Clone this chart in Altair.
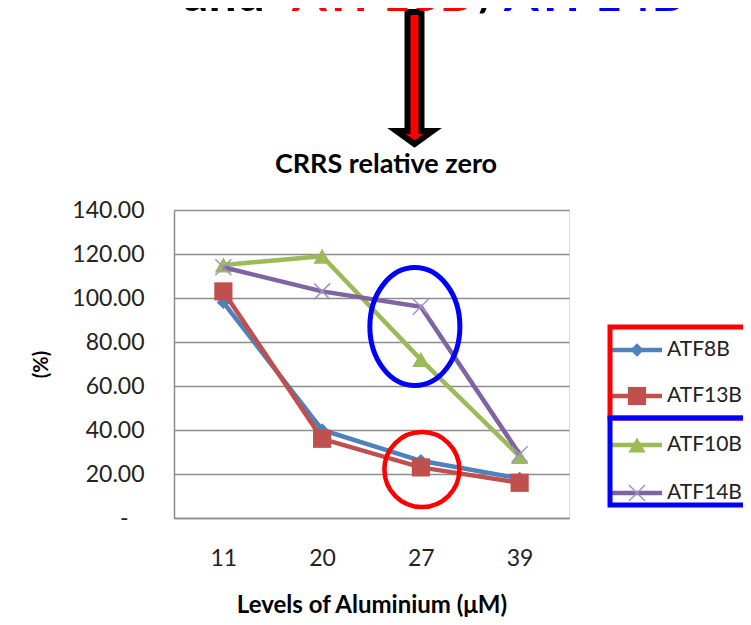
import altair as alt
import pandas as pd

# ---- data ----
levels = ["11", "20", "27", "39"]
series = ["ATF8B", "ATF13B", "ATF10B", "ATF14B"]
atf8b = [98, 40, 26, 18]
atf13b = [103, 36, 23, 16]
atf10b = [115, 119, 72, 28]
atf14b = [114, 103, 96, 29]
y_ticks = [0, 20, 40, 60, 80, 100, 120, 140]
colors = ["#4F81BD", "#C0504D", "#9BBB59", "#8064A2"]
shapes = ["diamond", "square", "triangle-up", "M-1,-1L1,1M-1,1L1,-1"]

# annotation ellipses (highlighted groups) at level 27
ann_levels = ["27", "27"]
ann_values = [87, 22]

chart_title = "CRRS relative zero"
header_parts = ["and", "ATF13B", "/", "ATF14B"]
header_colors = ["black", "#FF0000", "black", "#0000FF"]

rows = []
for name, vals in zip(series, [atf8b, atf13b, atf10b, atf14b]):
    for lv, v in zip(levels, vals):
        rows.append({"series": name, "level": lv, "value": v})
df = pd.DataFrame(rows)

W, H = 395, 308
FONT = "Lato"
GRID = "#8c8c8c"

x_enc = alt.X(
    "level:O",
    sort=levels,
    scale=alt.Scale(type="point", padding=0.5),
    axis=alt.Axis(
        title="Levels of Aluminium (μM)",
        labelAngle=0,
        labelFont=FONT,
        labelFontSize=23,
        labelColor="#222222",
        labelPadding=29,
        ticks=False,
        domainColor=GRID,
        domainWidth=1.5,
        titleFont=FONT,
        titleFontSize=24,
        titleFontWeight="bold",
        titleColor="black",
        titlePadding=23,
    ),
)
y_enc = alt.Y(
    "value:Q",
    scale=alt.Scale(domain=[0, 140], nice=False),
    axis=alt.Axis(
        title="(%)",
        values=y_ticks,
        labelExpr="datum.value == 0 ? '-' : format(datum.value, '.2f')",
        labelFont=FONT,
        labelFontSize=23,
        labelColor="#222222",
        labelPadding={"condition": {"test": "datum.value == 0", "value": 46}, "value": 30},
        ticks=False,
        grid=True,
        gridColor=GRID,
        gridWidth=1.5,
        domainColor=GRID,
        domainWidth=1.5,
        titleFont=FONT,
        titleFontSize=20,
        titleFontWeight="bold",
        titleColor="black",
        titlePadding=20,
    ),
)

layers = []
for i, name in enumerate(series):
    sub = df[df["series"] == name]
    line = alt.Chart(sub).mark_line(color=colors[i], strokeWidth=4.5).encode(x=x_enc, y=y_enc)
    layers.append(line)
    if i == 3:
        pts = alt.Chart(sub).mark_point(
            shape=shapes[i], size=256, filled=False, stroke="#a491c4", strokeWidth=1.5, opacity=1
        ).encode(x=x_enc, y=y_enc)
    else:
        size = [180, 330, 300][i]
        pts = alt.Chart(sub).mark_point(
            shape=shapes[i], size=size, filled=True, color=colors[i], opacity=1
        ).encode(x=x_enc, y=y_enc)
    layers.append(pts)

ann_df = pd.DataFrame({"level": ann_levels, "value": ann_values})
ellipse_blue = alt.Chart(ann_df.iloc[[0]]).mark_point(
    shape="M0,-1 A0.763,1 0 1,1 0,1 A0.763,1 0 1,1 0,-1 Z",
    size=13924, filled=False, stroke="#0000FF", strokeWidth=5, opacity=1, xOffset=-6,
).encode(x=x_enc, y=y_enc)
ellipse_red = alt.Chart(ann_df.iloc[[1]]).mark_point(
    shape="circle", size=5625, filled=False, stroke="#FF0000", strokeWidth=4.5, opacity=1, xOffset=1,
).encode(x=x_enc, y=y_enc)
layers += [ellipse_blue, ellipse_red]

one = alt.InlineData(values=[{"k": 1}])

# chart title
layers.append(
    alt.Chart(one).mark_text(
        text=chart_title, align="center", baseline="alphabetic", font=FONT, fontSize=27,
        fontWeight="bold", color="black",
    ).encode(x=alt.value(212), y=alt.value(-37))
)

# arrow
arrow = alt.Chart(one).mark_point(
    shape="M-0.106,-1 L0.106,-1 L0.106,0.803 L0.273,0.803 L0,1 L-0.273,0.803 L-0.106,0.803 Z",
    size=17424, filled=True, fill="#FF0000", stroke="black", strokeWidth=6, opacity=1,
).encode(x=alt.value(240.5), y=alt.value(-132))
layers.append(arrow)

# header (cut off at top)
hx = [9, 118, 304, 330]
for txt, col, xx in zip(header_parts, header_colors, hx):
    layers.append(
        alt.Chart(one).mark_text(
            text=txt, align="left", baseline="alphabetic", font=FONT, fontSize=50,
            fontWeight="bold", color=col,
        ).encode(x=alt.value(xx), y=alt.value(-199))
    )

# legend with group boxes
legend_y = [140, 186, 235, 283]
for i, name in enumerate(series):
    layers.append(
        alt.Chart(one).mark_rule(color=colors[i], strokeWidth=4.5).encode(
            x=alt.value(438), x2=alt.value(488), y=alt.value(legend_y[i])
        )
    )
    if i == 3:
        mk = alt.Chart(one).mark_point(
            shape=shapes[i], size=256, filled=False, stroke="#a491c4", strokeWidth=1.5, opacity=1
        )
    else:
        mk = alt.Chart(one).mark_point(
            shape=shapes[i], size=[180, 330, 300][i], filled=True, color=colors[i], opacity=1
        )
    layers.append(mk.encode(x=alt.value(463), y=alt.value(legend_y[i])))
    layers.append(
        alt.Chart(one).mark_text(
            text=name, align="left", baseline="middle", font=FONT, fontSize=21, color="#222222"
        ).encode(x=alt.value(493), y=alt.value(legend_y[i]))
    )

layers.append(
    alt.Chart(one).mark_rect(fillOpacity=0, stroke="#FF0000", strokeWidth=5).encode(
        x=alt.value(436), x2=alt.value(620), y=alt.value(117), y2=alt.value(208)
    )
)
layers.append(
    alt.Chart(one).mark_rect(fillOpacity=0, stroke="#0000FF", strokeWidth=5).encode(
        x=alt.value(436), x2=alt.value(620), y=alt.value(208), y2=alt.value(295)
    )
)

chart = (
    alt.layer(*layers)
    .properties(
        width=W,
        height=H,
        autosize=alt.AutoSizeParams(type="none"),
        padding={"left": 166, "top": 202, "right": 174, "bottom": 99},
    )
    .configure_view(stroke=None)
    .configure(background="white")
)

chart.save("out.html", embed_options={"renderer": "svg", "actions": False})
